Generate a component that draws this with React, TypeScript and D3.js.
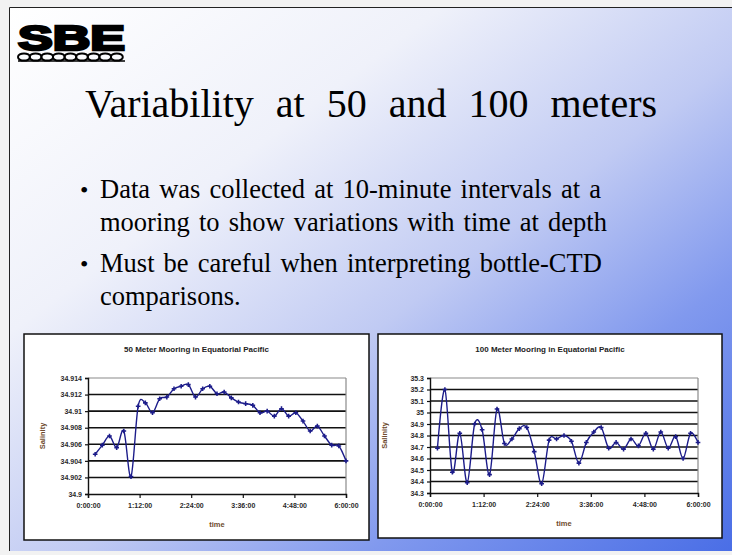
import * as d3 from 'd3';
import { useRef, useEffect } from 'react';

// sample times, minutes after start (10-minute intervals)
const sampleMinutes = [10, 20, 30, 40, 50, 60, 70, 80, 90, 100, 110, 120, 130, 140, 150, 160, 170, 180,
    190, 200, 210, 220, 230, 240, 250, 260, 270, 280, 290, 300, 310, 320, 330, 340, 350, 360];

// salinity at 50 m
const salinity50 = [34.9048, 34.9059, 34.9070, 34.9056, 34.9076, 34.9021, 34.9106, 34.9110, 34.9098,
    34.9115, 34.9117, 34.9127, 34.9130, 34.9132, 34.9117, 34.9127, 34.9130, 34.9121, 34.9123, 34.9116,
    34.9111, 34.9109, 34.9107, 34.9098, 34.9100, 34.9094, 34.9103, 34.9094, 34.9098, 34.9088, 34.9076,
    34.9082, 34.9070, 34.9059, 34.9058, 34.9040];

// salinity at 100 m
const salinity100 = [34.69, 35.20, 34.48, 34.82, 34.39, 34.90, 34.85, 34.46, 35.03, 34.73, 34.77, 34.86,
    34.87, 34.66, 34.38, 34.76, 34.77, 34.80, 34.75, 34.56, 34.74, 34.83, 34.87, 34.69, 34.74, 34.68,
    34.77, 34.71, 34.82, 34.68, 34.83, 34.69, 34.79, 34.60, 34.82, 34.74];

const xTickMinutes = [0, 72, 144, 216, 288, 360];
const xTickLabels = ['0:00:00', '1:12:00', '2:24:00', '3:36:00', '4:48:00', '6:00:00'];

const yTicks50 = [34.9, 34.902, 34.904, 34.906, 34.908, 34.91, 34.912, 34.914];
const yLabels50 = ['34.9', '34.902', '34.904', '34.906', '34.908', '34.91', '34.912', '34.914'];
const yTicks100 = [34.3, 34.4, 34.5, 34.6, 34.7, 34.8, 34.9, 35, 35.1, 35.2, 35.3];
const yLabels100 = ['34.3', '34.4', '34.5', '34.6', '34.7', '34.8', '34.9', '35', '35.1', '35.2', '35.3'];

const slideTitle = 'Variability at 50 and 100 meters';
const bulletLines = [
    ['Data was collected at 10-minute intervals at a', 'mooring to show variations with time at depth'],
    ['Must be careful when interpreting bottle-CTD', 'comparisons.'],
];

type Panel = {
    box: [number, number, number, number];
    plot: { left: number; right: number; top: number; bottom: number };
    title: string;
    values: number[];
    yTicks: number[];
    yLabels: string[];
};

const LINE = '#1c1c8a';
const AXIS_TITLE = '#6e4b2c';
const SANS = "'Liberation Sans', Arial, sans-serif";
const SERIF = "'Times New Roman', 'Liberation Serif', Tinos, Times, serif";

function drawPanel(root: d3.Selection<SVGGElement, unknown, null, undefined>, p: Panel) {
    const [bx0, by0, bx1, by1] = p.box;
    const { left, right, top, bottom } = p.plot;
    const g = root.append('g');

    g.append('rect')
        .attr('x', bx0).attr('y', by0)
        .attr('width', bx1 - bx0).attr('height', by1 - by0)
        .attr('fill', '#fff').attr('stroke', '#111').attr('stroke-width', 1.5);

    g.append('text')
        .attr('x', (bx0 + bx1) / 2).attr('y', by0 + 18)
        .attr('text-anchor', 'middle')
        .style('font-family', SANS)
        .attr('font-weight', 'bold').attr('font-size', 8).attr('fill', '#222')
        .text(p.title);

    const x = d3.scaleLinear().domain([0, 360]).range([left, right]);
    const y = d3.scaleLinear().domain(d3.extent(p.yTicks) as [number, number]).range([bottom, top]);

    // gridlines
    const last = p.yTicks[p.yTicks.length - 1];
    g.selectAll('.grid')
        .data(p.yTicks.slice(1))
        .enter().append('line')
        .attr('x1', left).attr('x2', right)
        .attr('y1', d => y(d)).attr('y2', d => y(d))
        .attr('stroke', d => d === last ? '#8a8a8a' : '#111')
        .attr('stroke-width', d => d === last ? 1.2 : 1.6);

    g.append('line')
        .attr('x1', right).attr('x2', right).attr('y1', top).attr('y2', bottom)
        .attr('stroke', '#8a8a8a').attr('stroke-width', 1.2);

    // axes
    const fontAttrs = (s: d3.Selection<any, any, any, any>) => s
        .style('font-family', SANS)
        .attr('font-weight', 'bold').attr('font-size', 7).attr('fill', '#2a2a2a');

    const yAxis = g.append('g').attr('transform', `translate(${left},0)`)
        .call(d3.axisLeft(y).tickValues(p.yTicks).tickFormat((_, i) => p.yLabels[i]).tickSize(3).tickPadding(3));
    yAxis.select('.domain').attr('stroke', '#111').attr('stroke-width', 1.4);
    yAxis.selectAll('.tick line').attr('stroke', '#111').attr('stroke-width', 1.2);
    yAxis.selectAll('.tick text').call(fontAttrs);

    const xAxis = g.append('g').attr('transform', `translate(0,${bottom})`)
        .call(d3.axisBottom(x).tickValues(xTickMinutes).tickFormat((_, i) => xTickLabels[i]).tickSize(4).tickPadding(5));
    xAxis.select('.domain').attr('stroke', '#111').attr('stroke-width', 1.4);
    xAxis.selectAll('.tick line').attr('stroke', '#111').attr('stroke-width', 1.2);
    xAxis.selectAll('.tick text').call(fontAttrs);

    // series
    const pts = sampleMinutes.map((m, i) => [m, p.values[i]] as [number, number]);
    const line = d3.line<[number, number]>()
        .x(d => x(d[0])).y(d => y(d[1]))
        .curve(d3.curveCardinal.tension(0));
    g.append('path').datum(pts)
        .attr('d', line)
        .attr('fill', 'none').attr('stroke', LINE).attr('stroke-width', 1.4);

    g.selectAll('.mark')
        .data(pts)
        .enter().append('path')
        .attr('transform', d => `translate(${x(d[0])},${y(d[1])})`)
        .attr('d', d3.symbol(d3.symbolCross, 12)())
        .attr('fill', LINE);

    // axis titles
    g.append('text')
        .attr('transform', `translate(${left - 43},${(top + bottom) / 2}) rotate(-90)`)
        .attr('text-anchor', 'middle')
        .style('font-family', SANS)
        .attr('font-weight', 'bold').attr('font-size', 7.5).attr('fill', AXIS_TITLE)
        .text('Salinity');
    g.append('text')
        .attr('x', (left + right) / 2).attr('y', bottom + 33)
        .attr('text-anchor', 'middle')
        .style('font-family', SANS)
        .attr('font-weight', 'bold').attr('font-size', 7.5).attr('fill', AXIS_TITLE)
        .text('time');
}

export default function App() {
    const svgRef = useRef<SVGSVGElement>(null);

    useEffect(() => {
        if (!svgRef.current) return;
        const svg = d3.select(svgRef.current);
        svg.selectAll('*').remove();

        const defs = svg.append('defs');
        const grad = defs.append('linearGradient')
            .attr('id', 'slideBg').attr('x1', 0).attr('y1', 0).attr('x2', 1).attr('y2', 1);
        [['0', '#ffffff'], ['0.3', '#eff1fa'], ['0.55', '#c0caf3'], ['0.75', '#8199ee'], ['1', '#4a6ee6']]
            .forEach(([o, c]) => grad.append('stop').attr('offset', o).attr('stop-color', c));

        svg.append('rect').attr('width', 732).attr('height', 555).attr('fill', '#f2f2f2');
        svg.append('rect').attr('x', 9).attr('y', 7).attr('width', 723).attr('height', 544)
            .attr('fill', 'url(#slideBg)');
        svg.append('path').attr('d', 'M9.5,551 V7.5 H732')
            .attr('fill', 'none').attr('stroke', '#222').attr('stroke-width', 1);

        // logo
        const logo = svg.append('g');
        logo.append('text')
            .attr('x', 18).attr('y', 50)
            .style('font-family', SANS)
            .attr('font-weight', 'bold').attr('font-size', 35)
            .attr('textLength', 107).attr('lengthAdjust', 'spacingAndGlyphs')
            .attr('stroke', '#000').attr('stroke-width', 2.5).attr('fill', '#000')
            .text('SBE');
        const loops = d3.range(9);
        logo.selectAll('.loop')
            .data(loops)
            .enter().append('ellipse')
            .attr('cx', i => 24 + i * 11.6).attr('cy', 57)
            .attr('rx', 6).attr('ry', 3.6)
            .attr('fill', 'none').attr('stroke', '#000').attr('stroke-width', 2);
        logo.append('line').attr('x1', 18).attr('x2', 125).attr('y1', 61).attr('y2', 61)
            .attr('stroke', '#000').attr('stroke-width', 1.5);

        svg.append('text')
            .attr('x', 371).attr('y', 117)
            .attr('text-anchor', 'middle')
            .style('font-family', SERIF)
            .attr('font-size', 40).attr('fill', '#000')
            .attr('word-spacing', 12)
            .text(slideTitle);

        const baselines = [[198, 231], [272, 305]];
        bulletLines.forEach((lines, bi) => {
            svg.append('text')
                .attr('x', 80).attr('y', baselines[bi][0])
                .style('font-family', SERIF)
                .attr('font-size', 24).text('\u2022');
            lines.forEach((t, li) => {
                svg.append('text')
                    .attr('x', 100).attr('y', baselines[bi][li])
                    .style('font-family', SERIF)
                    .attr('font-size', 26.5).attr('fill', '#000')
                    .attr('word-spacing', 2.5)
                    .text(t);
            });
        });

        const root = svg.append('g');
        drawPanel(root, {
            box: [24, 334, 369, 540],
            plot: { left: 88, right: 346, top: 378, bottom: 494 },
            title: '50 Meter Mooring in Equatorial Pacific',
            values: salinity50, yTicks: yTicks50, yLabels: yLabels50,
        });
        drawPanel(root, {
            box: [378, 334, 722, 538],
            plot: { left: 430, right: 698, top: 378, bottom: 493 },
            title: '100 Meter Mooring in Equatorial Pacific',
            values: salinity100, yTicks: yTicks100, yLabels: yLabels100,
        });
    }, []);

    return <svg ref={svgRef} width={732} height={555} style={{ position: 'absolute', left: 0, top: 0 }} />;
}
